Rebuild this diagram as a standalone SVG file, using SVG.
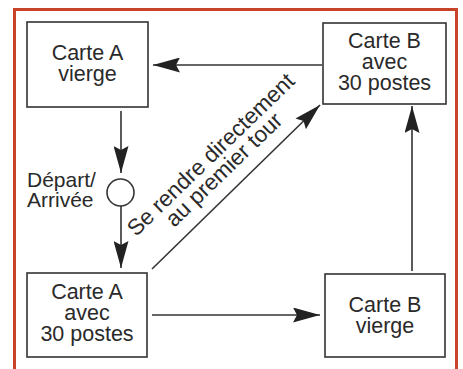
<svg xmlns="http://www.w3.org/2000/svg" width="463" height="369" viewBox="0 0 463 369">
<defs>
<marker id="ah" viewBox="0 0 27 15" refX="27" refY="7.5" markerWidth="27" markerHeight="15" markerUnits="userSpaceOnUse" orient="auto">
<path d="M0,0 L27,7.5 L0,15 L4,7.5 Z" fill="#222"/>
</marker>
</defs>
<style>
.box{fill:#fff;stroke:#333;stroke-width:1.6}
.t{font-family:"Liberation Sans",Arial,sans-serif;font-size:21.5px;fill:#2a2a2a;text-anchor:middle}
.d{font-family:"Liberation Sans",Arial,sans-serif;font-size:22.5px;fill:#2a2a2a;text-anchor:middle}
.lbl{font-family:"Liberation Sans",Arial,sans-serif;font-size:21px;fill:#2a2a2a}
.c{fill:none;stroke:#333;stroke-width:1.6}
</style>
<rect x="0" y="0" width="463" height="369" fill="#fff"/>
<rect x="14.5" y="9.5" width="442" height="380" fill="none" stroke="#c9432b" stroke-width="3"/>
<g id="connectors">
<line class="c" x1="322" y1="65" x2="153" y2="65" marker-end="url(#ah)"/>
<line class="c" x1="121" y1="111" x2="121" y2="173" marker-end="url(#ah)"/>
<line class="c" x1="121" y1="206" x2="121" y2="268" marker-end="url(#ah)"/>
<line class="c" x1="152" y1="269" x2="320" y2="105" marker-end="url(#ah)"/>
<line class="c" x1="152" y1="315" x2="320" y2="315" marker-end="url(#ah)"/>
<line class="c" x1="412" y1="271" x2="412" y2="106" marker-end="url(#ah)"/>
</g>
<g id="carteA-vierge">
<rect class="box" x="27" y="22" width="121" height="85"/>
<text class="t" x="87.5" y="60">Carte A</text>
<text class="t" x="87.5" y="81">vierge</text>
</g>
<g id="carteB-30">
<rect class="box" x="323" y="23" width="123" height="81"/>
<text class="t" x="384.5" y="48">Carte B</text>
<text class="t" x="384.5" y="69">avec</text>
<text class="t" x="384.5" y="90">30 postes</text>
</g>
<g id="carteA-30">
<rect class="box" x="27" y="273" width="120" height="84"/>
<text class="t" x="87" y="299">Carte A</text>
<text class="t" x="87" y="320">avec</text>
<text class="t" x="87" y="341">30 postes</text>
</g>
<g id="carteB-vierge">
<rect class="box" x="325" y="274" width="120" height="83"/>
<text class="t" x="385" y="312">Carte B</text>
<text class="t" x="385" y="333">vierge</text>
</g>
<g id="depart">
<circle cx="120.5" cy="192.5" r="13.5" fill="#fff" stroke="#333" stroke-width="1.6"/>
<text class="lbl" x="27" y="187">Départ/</text>
<text class="lbl" x="27" y="207">Arrivée</text>
</g>
<g id="diag-label">
<text class="d" transform="translate(216,160) rotate(-44)" x="0" y="0">Se rendre directement</text>
<text class="d" transform="translate(229,175) rotate(-44)" x="0" y="0">au premier tour</text>
</g>
</svg>
